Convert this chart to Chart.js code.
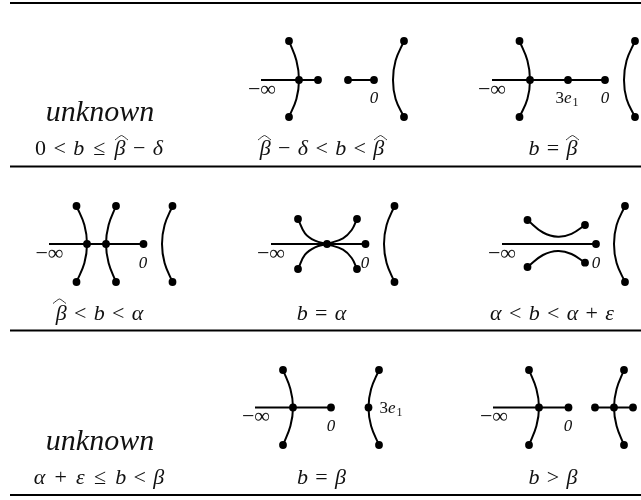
<!DOCTYPE html>
<html>
<head>
<meta charset="utf-8">
<title>Branch diagrams</title>
<script src="https://cdn.jsdelivr.net/npm/chart.js@4"></script>
<style>
  html, body { margin: 0; padding: 0; background: #fff; }
  canvas { display: block; }
</style>
</head>
<body>
<canvas id="chart" width="641" height="500"></canvas>
<script>
// Table rules: [y]
const ruleRows = [3, 166.5, 330.5, 495];

// Horizontal real-axis segments: [x from, x to, y]
const axisSegments = [
  [261, 318, 80], [348, 374, 80], [492, 605, 80],
  [49, 143.5, 244], [271, 365.5, 244], [502, 596, 244],
  [255, 331, 407.5], [493, 568.5, 407.5], [595, 633, 407.5]
];

// Curved branches: [x, y] points along each one
const branchCurves = [
  [[289, 41], [296.4, 60.5], [299, 80], [296.4, 99], [289, 117]],
  [[404, 41], [395.6, 60.5], [393, 80], [395.6, 99], [404, 117]],
  [[519.5, 41], [527.4, 60.5], [530, 80], [527.4, 99], [519.5, 117]],
  [[635, 41], [626.6, 60.5], [624, 80], [626.6, 99], [635, 117]],

  [[76.5, 206], [84.4, 225], [87, 244], [84.4, 263], [76.5, 282]],
  [[116, 206], [108.6, 225], [106, 244], [108.6, 263], [116, 282]],
  [[172.5, 206], [164.6, 225], [162, 244], [164.6, 263], [172.5, 282]],
  [[298, 219], [305, 233.3], [315, 240.7], [327, 244]],
  [[298, 269], [305, 254.7], [315, 247.3], [327, 244]],
  [[357, 219], [351.7, 230], [343, 238.3], [327, 244]],
  [[357, 269], [351.7, 258], [343, 249.7], [327, 244]],
  [[394.5, 206], [386.6, 225], [384, 244], [386.6, 263], [394.5, 282]],
  [[527.5, 220], [543, 232.5], [558, 236.7], [571.5, 233.8], [585, 225]],
  [[527.5, 267], [543, 255], [558, 251], [571.5, 254], [585, 262.7]],
  [[625, 206], [616.6, 225], [614, 244], [616.6, 263], [625, 282]],

  [[283, 370], [290.4, 389], [293, 407.5], [290.4, 426], [283, 445]],
  [[379, 370], [371.1, 389], [368.5, 407.5], [371.1, 426], [379, 445]],
  [[529, 370], [536.4, 389], [539, 407.5], [536.4, 426], [529, 445]],
  [[624, 370], [616.6, 389], [614, 407.5], [616.6, 426], [624, 445]]
];

// Branch points and end points: [x, y]
const nodeDots = [
  [289, 41], [289, 117], [299, 80], [318, 80], [348, 80], [374, 80], [404, 41], [404, 117],
  [519.5, 41], [519.5, 117], [530, 80], [568, 80], [605, 80], [635, 41], [635, 117],

  [76.5, 206], [76.5, 282], [116, 206], [116, 282], [87, 244], [106, 244], [143.5, 244],
  [172.5, 206], [172.5, 282],
  [298, 219], [298, 269], [357, 219], [357, 269], [327, 244], [365.5, 244],
  [394.5, 206], [394.5, 282],
  [527.5, 220], [585, 225], [527.5, 267], [585, 262.7], [596, 244], [625, 206], [625, 282],

  [283, 370], [283, 445], [293, 407.5], [331, 407.5],
  [379, 370], [379, 445], [368.5, 407.5],
  [529, 370], [529, 445], [539, 407.5], [568.5, 407.5],
  [595, 407.5], [614, 407.5], [633, 407.5], [624, 370], [624, 445]
];

// Wide hats over beta: [x left, x peak, x right, y ends, y peak]
const betaHats = [
  [115, 121.5, 128, 140, 135.5],
  [258, 264.5, 271, 140, 135.5],
  [374, 380.5, 387, 140, 135.5],
  [566, 572.5, 579, 140, 135.5],
  [53, 59.5, 66, 303.5, 299]
];

// Text: [x centre, baseline y, runs], run = [text, style]
const unknownLabels = [[100, 121], [100, 450]];
const minusInfLabels = [[262, 95.5], [492, 95.5], [49.5, 259.5], [271, 259.5], [502, 259.5], [256, 422.5], [494, 422.5]];
const zeroLabels = [[374, 103], [605, 103], [143, 268], [365, 268], [596, 268], [331, 431], [568, 431]];
const threeE1Labels = [[566.5, 103], [390.5, 413]];
const conditionLabels = [
  [99, 155, [['0\u200A < \u200A', 'r'], ['b', 'i'], ['\u200A\u200A ≤ \u200A\u200A', 'r'], ['β', 'i'], ['\u200A − \u200A', 'r'], ['δ', 'i']]],
  [322, 155, [['β', 'i'], ['\u200A − \u200A', 'r'], ['δ', 'i'], ['\u200A < \u200A', 'r'], ['b', 'i'], ['\u200A < \u200A', 'r'], ['β', 'i']]],
  [553, 155, [['b', 'i'], ['\u200A = \u200A', 'r'], ['β', 'i']]],
  [99.5, 320, [['β', 'i'], ['\u200A < \u200A', 'r'], ['b', 'i'], ['\u200A < \u200A', 'r'], ['α', 'i']]],
  [321.5, 320, [['b', 'i'], ['\u200A = \u200A', 'r'], ['α', 'i']]],
  [552, 320, [['α', 'i'], ['\u200A < \u200A', 'r'], ['b', 'i'], ['\u200A < \u200A', 'r'], ['α', 'i'], ['\u200A + \u200A', 'r'], ['ε', 'i']]],
  [99, 484, [['α', 'i'], ['\u200A\u200A + \u200A\u200A', 'r'], ['ε', 'i'], ['\u200A\u200A ≤ \u200A\u200A', 'r'], ['b', 'i'], ['\u200A < \u200A', 'r'], ['β', 'i']]],
  [321.5, 484, [['b', 'i'], ['\u200A = \u200A', 'r'], ['β', 'i']]],
  [553, 484, [['b', 'i'], ['\u200A > \u200A', 'r'], ['β', 'i']]]
];

const toPoints = pts => pts.map(p => ({ x: p[0], y: p[1] }));

function drawRuns(ctx, x, y, runs, size) {
  const fontFor = s => (s === 'i' ? 'italic ' : '') + size + 'px "Liberation Serif"';
  let width = 0;
  runs.forEach(r => { ctx.font = fontFor(r[1]); width += ctx.measureText(r[0]).width; });
  let cx = x - width / 2;
  runs.forEach(r => {
    ctx.font = fontFor(r[1]);
    ctx.fillText(r[0], cx, y);
    cx += ctx.measureText(r[0]).width;
  });
}

const tableText = {
  id: 'tableText',
  afterDatasetsDraw(chart) {
    const { ctx, scales } = chart;
    const px = v => scales.x.getPixelForValue(v);
    const py = v => scales.y.getPixelForValue(v);
    ctx.save();
    ctx.fillStyle = '#111';
    ctx.textBaseline = 'alphabetic';
    ctx.textAlign = 'left';
    unknownLabels.forEach(l => drawRuns(ctx, px(l[0]), py(l[1]), [['unknown', 'i']], 30));
    minusInfLabels.forEach(l => drawRuns(ctx, px(l[0]), py(l[1]), [['−∞', 'r']], 22));
    zeroLabels.forEach(l => drawRuns(ctx, px(l[0]), py(l[1]), [['0', 'i']], 17));
    threeE1Labels.forEach(l => {
      drawRuns(ctx, px(l[0]) - 3, py(l[1]), [['3', 'r'], ['e', 'i']], 17);
      ctx.font = '12px "Liberation Serif"';
      ctx.fillText('1', px(l[0]) + 6, py(l[1]) + 3);
    });
    conditionLabels.forEach(l => drawRuns(ctx, px(l[0]), py(l[1]), l[2], 22));
    ctx.restore();
  }
};

const datasets = [];
datasets.push({
  data: toPoints(nodeDots), showLine: false, pointRadius: 3.9,
  pointBackgroundColor: '#000', pointBorderWidth: 0
});
branchCurves.forEach(c => datasets.push({
  data: toPoints(c), showLine: true, borderColor: '#000', borderWidth: 2, pointRadius: 0, tension: 0.4
}));
axisSegments.forEach(s => datasets.push({
  data: toPoints([[s[0], s[2]], [s[1], s[2]]]), showLine: true, borderColor: '#000', borderWidth: 2, pointRadius: 0
}));
ruleRows.forEach(y => datasets.push({
  data: toPoints([[10, y], [641, y]]), showLine: true, borderColor: '#000', borderWidth: 2, pointRadius: 0
}));
betaHats.forEach(h => datasets.push({
  data: toPoints([[h[0], h[3]], [h[1], h[4]], [h[2], h[3]]]),
  showLine: true, borderColor: '#222', borderWidth: 0.9, pointRadius: 0, tension: 0.2
}));

new Chart(document.getElementById('chart'), {
  type: 'scatter',
  data: { datasets: datasets },
  options: {
    responsive: false,
    animation: false,
    layout: { padding: 0, autoPadding: false },
    plugins: { legend: { display: false }, tooltip: { enabled: false } },
    scales: {
      x: { type: 'linear', min: 0, max: 641, display: false },
      y: { type: 'linear', min: 0, max: 500, reverse: true, display: false }
    }
  },
  plugins: [tableText]
});
</script>
</body>
</html>
